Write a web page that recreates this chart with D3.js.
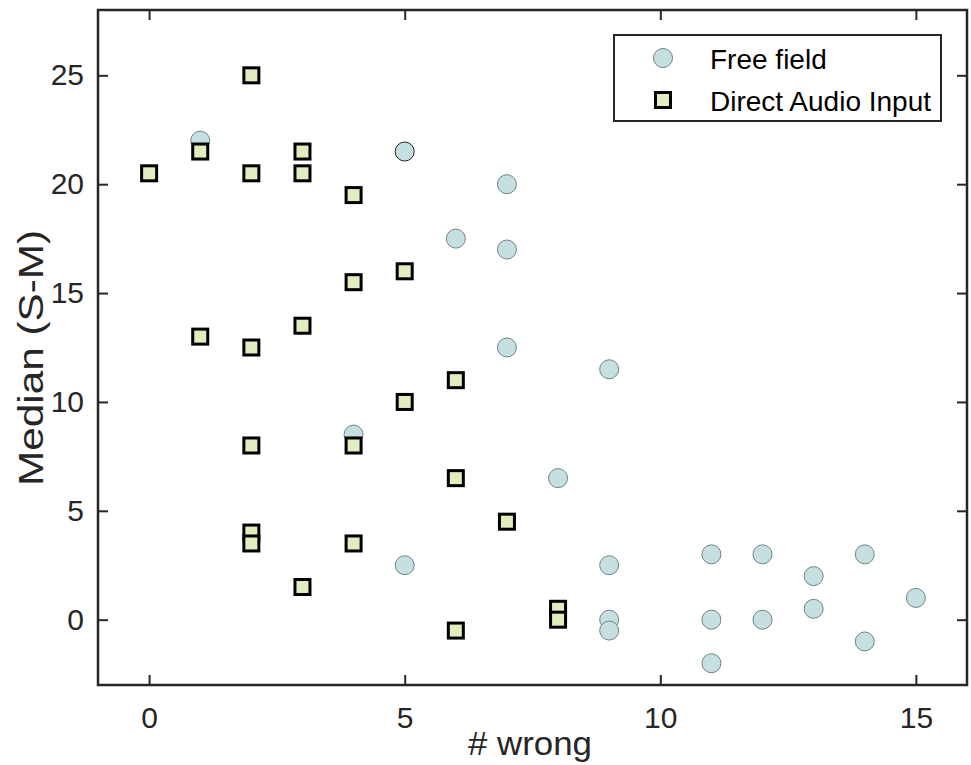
<!DOCTYPE html>
<html>
<head>
<meta charset="utf-8">
<script src="https://d3js.org/d3.v7.min.js"></script>
<style>
  body { margin: 0; background: #fff; }
  text { font-family: Arial, "Liberation Sans", Helvetica, sans-serif; }
</style>
</head>
<body>
<div class="chart"></div>
<script>
// Free field (circles)
const freeX = [1, 4, 5, 5, 6, 7, 7, 7, 8, 9, 9, 9, 9, 11, 11, 11, 12, 12, 13, 13, 14, 14, 15]
const freeY = [22, 8.5, 21.5, 2.5, 17.5, 20, 17, 12.5, 6.5, 11.5, 2.5, 0, -0.5, 3, 0, -2, 3, 0, 2, 0.5, 3, -1, 1]

// Direct Audio Input (squares)
const daiX = [0, 1, 1, 2, 2, 2, 2, 2, 2, 3, 3, 3, 3, 4, 4, 4, 4, 5, 5, 6, 6, 6, 7, 8, 8]
const daiY = [20.5, 21.5, 13, 25, 20.5, 12.5, 8, 4, 3.5, 21.5, 20.5, 13.5, 1.5, 19.5, 15.5, 8, 3.5, 16, 10, 11, 6.5, -0.5, 4.5, 0.5, 0]

const xTicks = [0, 5, 10, 15]
const yTicks = [0, 5, 10, 15, 20, 25]
const seriesNames = ["Free field", "Direct Audio Input"]

const width = 971, height = 765
const margin = {left: 98, top: 10, right: 4, bottom: 80}
const axisColor = "#262626"
const circleFill = "#c6dfe0", circleStroke = "#6f8585"
const squareFill = "#e0edbf"

const svg = d3.select(".chart").append("svg")
  .attr("width", width).attr("height", height)

const x = d3.scaleLinear().domain([-1, 16]).range([margin.left, width - margin.right])
const y = d3.scaleLinear().domain([-3, 28]).range([height - margin.bottom, margin.top])

const x0 = x.range()[0], x1 = x.range()[1]
const y0 = y.range()[0], y1 = y.range()[1]

// axes (ticks inside, MATLAB style)
function styleAxis(g) {
  g.select(".domain").remove()
  g.selectAll("line").attr("stroke", axisColor).attr("stroke-width", 2)
  g.selectAll("text").attr("fill", axisColor).attr("font-size", 30)
}

svg.append("g").attr("transform", "translate(0," + y0 + ")")
  .call(d3.axisBottom(x).tickValues(xTicks).tickSizeInner(-10).tickPadding(22).tickFormat(d3.format("d")))
  .call(styleAxis)
svg.append("g").attr("transform", "translate(" + x0 + ",0)")
  .call(d3.axisLeft(y).tickValues(yTicks).tickSizeInner(-10).tickPadding(14).tickFormat(d3.format("d")))
  .call(styleAxis)
svg.append("g").attr("transform", "translate(0," + y1 + ")")
  .call(d3.axisTop(x).tickValues(xTicks).tickSizeInner(-10).tickFormat(""))
  .call(styleAxis)
svg.append("g").attr("transform", "translate(" + x1 + ",0)")
  .call(d3.axisRight(y).tickValues(yTicks).tickSizeInner(-10).tickFormat(""))
  .call(styleAxis)

svg.append("rect")
  .attr("x", x0).attr("y", y1).attr("width", x1 - x0).attr("height", y0 - y1)
  .attr("fill", "none").attr("stroke", axisColor).attr("stroke-width", 2.5)

// axis labels
svg.append("text").text("# wrong")
  .attr("x", 530).attr("y", 755)
  .attr("text-anchor", "middle").attr("font-size", 33).attr("fill", axisColor)
  .attr("textLength", 124).attr("lengthAdjust", "spacingAndGlyphs")
svg.append("text").text("Median (S-M)")
  .attr("transform", "translate(43,358) rotate(-90)")
  .attr("text-anchor", "middle").attr("font-size", 35).attr("fill", axisColor)
  .attr("textLength", 256).attr("lengthAdjust", "spacingAndGlyphs")

// points
const freeData = freeX.map((d, i) => ({x: d, y: freeY[i]}))
const daiData = daiX.map((d, i) => ({x: d, y: daiY[i]}))

svg.append("g").selectAll("circle").data(freeData).enter()
  .append("circle")
  .attr("cx", d => x(d.x)).attr("cy", d => y(d.y)).attr("r", 9.5)
  .attr("fill", circleFill)
  .attr("stroke", (d, i) => (d.x === 5 && d.y === 21.5) ? "#222" : circleStroke)
  .attr("stroke-width", 1)

const sq = 15
svg.append("g").selectAll("rect").data(daiData).enter()
  .append("rect")
  .attr("x", d => x(d.x) - sq / 2).attr("y", d => y(d.y) - sq / 2)
  .attr("width", sq).attr("height", sq)
  .attr("fill", squareFill).attr("stroke", "#000").attr("stroke-width", 3)

// legend
const leg = svg.append("g")
leg.append("rect")
  .attr("x", 614).attr("y", 35).attr("width", 327).attr("height", 86)
  .attr("fill", "#fff").attr("stroke", axisColor).attr("stroke-width", 2)
leg.append("circle").attr("cx", 663).attr("cy", 58).attr("r", 9.5)
  .attr("fill", circleFill).attr("stroke", circleStroke).attr("stroke-width", 1)
leg.append("rect").attr("x", 663 - sq / 2).attr("y", 100 - sq / 2)
  .attr("width", sq).attr("height", sq)
  .attr("fill", squareFill).attr("stroke", "#000").attr("stroke-width", 3)
leg.selectAll("text.lab").data(seriesNames).enter()
  .append("text").attr("class", "lab")
  .text(d => d)
  .attr("x", 710).attr("y", (d, i) => 69 + i * 42)
  .attr("font-size", 28).attr("fill", "#000")
</script>
</body>
</html>
